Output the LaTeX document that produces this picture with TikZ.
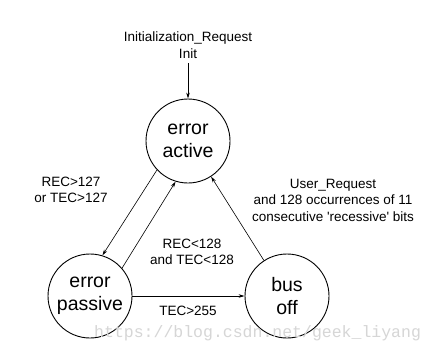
\documentclass[tikz,border=0pt]{standalone}
\usepackage{fontspec}
\setmainfont{Liberation Sans}
\newfontfamily\wmfont{Liberation Mono}
\usetikzlibrary{arrows.meta}
\begin{document}
\begin{tikzpicture}[x=1pt,y=-1pt,
  state/.style={circle,draw,line width=0.9pt,minimum size=84pt,inner sep=0pt,align=center,
    font=\fontsize{19.5}{23}\selectfont},
  lbl/.style={align=center,font=\fontsize{13.5}{16.5}\selectfont,inner sep=0pt},
  conn/.style={line width=0.6pt,-{Stealth[length=6pt,width=3.5pt]}}]
\useasboundingbox (0,0) rectangle (435,353);
\fill[white] (0,0) rectangle (435,353);
\node[state] (active) at (188,141) {error\\active};
\node[state] (passive) at (90,296) {error\\passive};
\node[state] (busoff) at (287,296) {bus\\off};
\coordinate (init) at (188,63);
\node[lbl] (initlbl) at (188,45) {Initialization\_Request\\Init};
\node[lbl] (l1) at (71,190) {REC>127\\or TEC>127};
\node[lbl] (l2) at (192,252) {REC<128\\and TEC<128};
\node[lbl] (l3) at (188,311) {TEC>255};
\node[lbl] (l4) at (333,200) {User\_Request\\and 128 occurrences of 11\\consecutive \textquotesingle recessive\textquotesingle{} bits};
\draw[conn] (init) -- (active.north);
\draw[conn] (active.223) -- (passive.73);
\draw[conn] (passive.41) -- (active.253.5);
\draw[conn] (busoff.123) -- (active.303);
\draw[conn] (passive.east) -- (busoff.west);
\node[font=\wmfont\fontsize{16.5}{18}\selectfont,text=black!16,anchor=west,inner sep=0pt] (wm) at (94,333) {https://blog.csdn.net/geek\_liyang};
\end{tikzpicture}
\end{document}
